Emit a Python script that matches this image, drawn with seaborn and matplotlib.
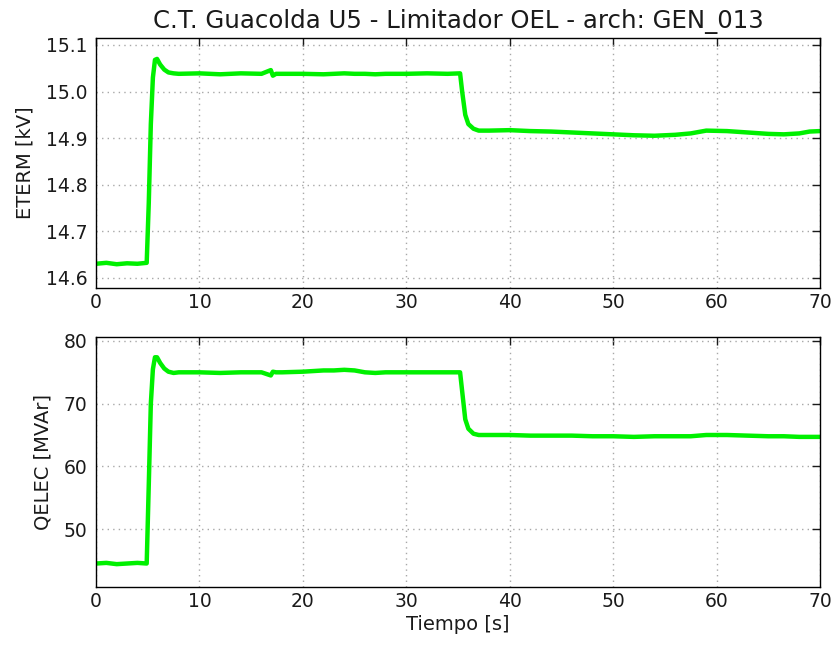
import matplotlib
matplotlib.use("Agg")
import matplotlib.pyplot as plt
import pandas as pd
import seaborn as sns

# ---------------------------------------------------------------------------
# DATA
# ---------------------------------------------------------------------------
TIME = [0.0, 1.0, 2.0, 3.0, 4.0, 4.9, 5.1, 5.3, 5.5, 5.7, 5.9, 6.2, 6.6, 7.0,
        7.5, 8.0, 10.0, 12.0, 14.0, 16.0, 16.9, 17.1, 17.4, 18.0, 20.0, 22.0,
        23.0, 24.0, 25.0, 26.0, 27.0, 28.0, 30.0, 32.0, 34.0, 35.2, 35.4,
        35.7, 36.0, 36.5, 37.0, 38.0, 40.0, 42.0, 44.0, 46.0, 48.0, 50.0,
        52.0, 54.0, 56.0, 57.5, 59.0, 61.0, 63.0, 65.0, 66.5, 68.0, 69.0,
        70.0]

ETERM = [14.630, 14.632, 14.629, 14.631, 14.630, 14.632, 14.760, 14.930,
         15.030, 15.068, 15.070, 15.058, 15.047, 15.041, 15.039, 15.038,
         15.039, 15.037, 15.039, 15.038, 15.046, 15.034, 15.038, 15.038,
         15.038, 15.037, 15.038, 15.039, 15.038, 15.038, 15.037, 15.038,
         15.038, 15.039, 15.038, 15.039, 15.000, 14.950, 14.930, 14.920,
         14.916, 14.916, 14.917, 14.915, 14.914, 14.912, 14.910, 14.908,
         14.906, 14.905, 14.907, 14.910, 14.916, 14.915, 14.912, 14.909,
         14.908, 14.910, 14.914, 14.915]

QELEC = [44.5, 44.6, 44.4, 44.5, 44.6, 44.5, 57.0, 70.0, 75.5, 77.4, 77.4,
         76.5, 75.6, 75.1, 74.9, 75.0, 75.0, 74.9, 75.0, 75.0, 74.5, 75.1,
         75.0, 75.0, 75.1, 75.3, 75.3, 75.4, 75.3, 75.0, 74.9, 75.0, 75.0,
         75.0, 75.0, 75.0, 72.0, 67.5, 66.0, 65.2, 65.0, 65.0, 65.0, 64.9,
         64.9, 64.9, 64.8, 64.8, 64.7, 64.8, 64.8, 64.8, 65.0, 65.0, 64.9,
         64.8, 64.8, 64.7, 64.7, 64.7]

TITLE = "C.T. Guacolda U5 - Limitador OEL - arch: GEN_013"
LINE_COLOR = "#00f000"

df = pd.DataFrame({"Tiempo": TIME, "ETERM": ETERM, "QELEC": QELEC})

sns.set_style("white", {
    "xtick.direction": "in",
    "ytick.direction": "in",
    "axes.edgecolor": "black",
    "text.color": "#1a1a1a",
    "axes.labelcolor": "#1a1a1a",
})
plt.rcParams["font.family"] = ["DejaVu Sans"]

fig = plt.figure(figsize=(8.32, 6.48), dpi=100)
ax1 = fig.add_axes([0.1154, 0.5556, 0.8702, 0.3858])
ax2 = fig.add_axes([0.1154, 0.0941, 0.8702, 0.3859])

sns.lineplot(data=df, x="Tiempo", y="ETERM", ax=ax1, color=LINE_COLOR,
             linewidth=3.2)
sns.lineplot(data=df, x="Tiempo", y="QELEC", ax=ax2, color=LINE_COLOR,
             linewidth=3.2)

ax1.set_ylim(14.578, 15.115)
ax1.set_yticks([14.6, 14.7, 14.8, 14.9, 15.0, 15.1])
ax1.set_ylabel("ETERM [kV]", fontsize=14, labelpad=8)
ax1.set_xlabel("")
ax1.set_title(TITLE, fontsize=17.6, pad=7)

ax2.set_ylim(40.75, 80.64)
ax2.set_yticks([50, 60, 70, 80])
ax2.set_ylabel("QELEC [MVAr]", fontsize=14, labelpad=8)
ax2.set_xlabel("Tiempo [s]", fontsize=14, labelpad=3)

for ax in (ax1, ax2):
    ax.set_xlim(0, 70)
    ax.set_xticks(range(0, 71, 10))
    ax.grid(True, linestyle=(0, (1, 3)), color="#a8a8a8", linewidth=1.0)
    ax.tick_params(axis="both", which="major", direction="in", length=6,
                   width=1, top=True, right=True, labelsize=13.5,
                   colors="#1a1a1a")
    ax.tick_params(axis="y", pad=6)
    for spine in ax.spines.values():
        spine.set_color("black")
        spine.set_linewidth(1.0)

fig.savefig("out.png", dpi=100)
